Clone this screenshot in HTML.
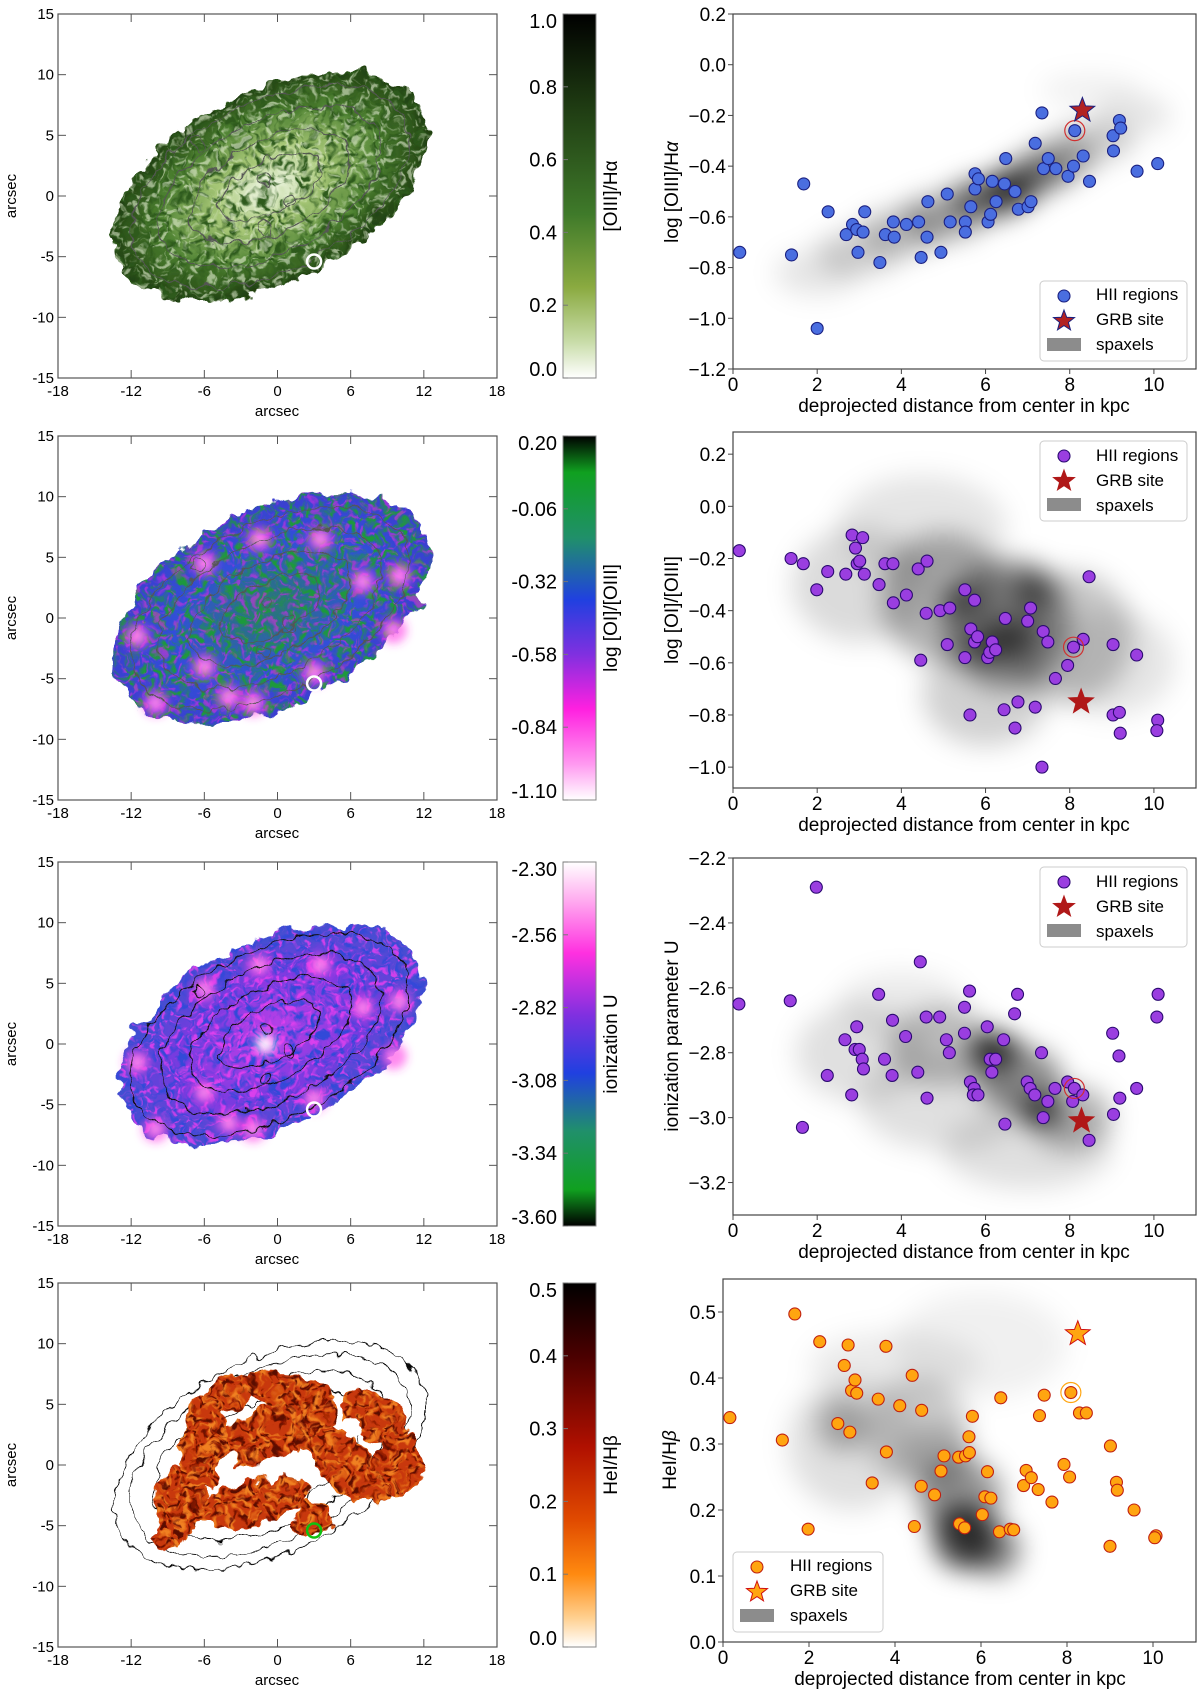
<!DOCTYPE html>
<html><head><meta charset="utf-8"><title>GRB host maps and radial profiles</title>
<style>
html,body{margin:0;padding:0;background:#fff;}
svg{display:block;font-family:"Liberation Sans",sans-serif;}
</style></head>
<body>
<svg id="fig" width="1200" height="1697" viewBox="0 0 1200 1697" xmlns="http://www.w3.org/2000/svg">
<defs>
 <filter id="rag" x="-20%" y="-20%" width="140%" height="140%"><feTurbulence type="fractalNoise" baseFrequency="0.05" numOctaves="3" seed="4" result="t"/><feDisplacementMap in="SourceGraphic" in2="t" scale="22" xChannelSelector="R" yChannelSelector="G"/></filter>
 <filter id="wig" x="-20%" y="-20%" width="140%" height="140%"><feTurbulence type="fractalNoise" baseFrequency="0.07" numOctaves="2" seed="9" result="t"/><feDisplacementMap in="SourceGraphic" in2="t" scale="14" xChannelSelector="R" yChannelSelector="G"/></filter>
 <filter id="nzA" x="0" y="0" width="100%" height="100%"><feTurbulence type="fractalNoise" baseFrequency="0.13" numOctaves="2" seed="3" result="t"/><feColorMatrix in="t" type="matrix" values="0 0 0 0 0 0 0 0 0 0 0 0 0 0 0 4 0 0 0 -1.8" result="a"/><feComposite in="SourceGraphic" in2="a" operator="in"/></filter>
 <filter id="nzB" x="0" y="0" width="100%" height="100%"><feTurbulence type="fractalNoise" baseFrequency="0.16" numOctaves="2" seed="11" result="t"/><feColorMatrix in="t" type="matrix" values="0 0 0 0 0 0 0 0 0 0 0 0 0 0 0 5 0 0 0 -2.6" result="a"/><feComposite in="SourceGraphic" in2="a" operator="in"/></filter>
 <filter id="blurD" x="-50%" y="-50%" width="200%" height="200%"><feGaussianBlur stdDeviation="13"/></filter>
 <filter id="blurS" x="-50%" y="-50%" width="200%" height="200%"><feGaussianBlur stdDeviation="5"/></filter>
 <radialGradient id="g1"><stop offset="0" stop-color="#f2f8e8"/><stop offset="0.35" stop-color="#a8c878"/><stop offset="0.7" stop-color="#4c8030"/><stop offset="1" stop-color="#1f3f10"/></radialGradient>
 <radialGradient id="g2"><stop offset="0" stop-color="#2a7a70"/><stop offset="0.6" stop-color="#3050d8"/><stop offset="1" stop-color="#3a40d0"/></radialGradient>
 <radialGradient id="g3"><stop offset="0" stop-color="#c040e8"/><stop offset="0.6" stop-color="#7a3ae0"/><stop offset="1" stop-color="#4050d0"/></radialGradient>
 <linearGradient id="cb1" x1="0" y1="0" x2="0" y2="1"><stop offset="0" stop-color="#000"/><stop offset="0.25" stop-color="#1e3a12"/><stop offset="0.55" stop-color="#3f7a2a"/><stop offset="0.75" stop-color="#8aaa40"/><stop offset="0.9" stop-color="#c8dca8"/><stop offset="1" stop-color="#fff"/></linearGradient>
 <linearGradient id="cb2" x1="0" y1="0" x2="0" y2="1"><stop offset="0" stop-color="#000"/><stop offset="0.1" stop-color="#10a020"/><stop offset="0.28" stop-color="#20906a"/><stop offset="0.45" stop-color="#2040e0"/><stop offset="0.6" stop-color="#8030e0"/><stop offset="0.75" stop-color="#ff20e0"/><stop offset="0.9" stop-color="#ff98f0"/><stop offset="1" stop-color="#fff"/></linearGradient>
 <linearGradient id="cb3" x1="0" y1="0" x2="0" y2="1"><stop offset="0" stop-color="#fff"/><stop offset="0.1" stop-color="#ffb0f0"/><stop offset="0.25" stop-color="#ff30e0"/><stop offset="0.42" stop-color="#8030e0"/><stop offset="0.58" stop-color="#2040e0"/><stop offset="0.74" stop-color="#20906a"/><stop offset="0.9" stop-color="#10a020"/><stop offset="1" stop-color="#000"/></linearGradient>
 <linearGradient id="cb4" x1="0" y1="0" x2="0" y2="1"><stop offset="0" stop-color="#000"/><stop offset="0.2" stop-color="#4a0000"/><stop offset="0.45" stop-color="#b01000"/><stop offset="0.65" stop-color="#e04a00"/><stop offset="0.8" stop-color="#ff8a10"/><stop offset="0.92" stop-color="#ffd090"/><stop offset="1" stop-color="#fff"/></linearGradient>
</defs>

<g font-size="15" fill="#000">
 <text transform="translate(16,196) rotate(-90)" text-anchor="middle">arcsec</text>
 <text x="277" y="416" text-anchor="middle">arcsec</text>
 <text transform="translate(16,618) rotate(-90)" text-anchor="middle">arcsec</text>
 <text x="277" y="838" text-anchor="middle">arcsec</text>
 <text transform="translate(16,1044) rotate(-90)" text-anchor="middle">arcsec</text>
 <text x="277" y="1264" text-anchor="middle">arcsec</text>
 <text transform="translate(16,1465) rotate(-90)" text-anchor="middle">arcsec</text>
 <text x="277" y="1685" text-anchor="middle">arcsec</text>
</g>
<g font-size="19" fill="#000">
 <text transform="translate(617,196) rotate(-90)" text-anchor="middle">[OIII]/Hα</text>
 <text transform="translate(617,618) rotate(-90)" text-anchor="middle">log [OI]/[OIII]</text>
 <text transform="translate(617,1044) rotate(-90)" text-anchor="middle">ionization U</text>
 <text transform="translate(617,1465) rotate(-90)" text-anchor="middle">HeI/Hβ</text>
</g>
<g font-size="19" fill="#000">
 <text transform="translate(678,192) rotate(-90)" text-anchor="middle">log [OIII]/H<tspan font-style="italic">α</tspan></text>
 <text x="964" y="412" text-anchor="middle">deprojected distance from center in kpc</text>
 <text transform="translate(678,610) rotate(-90)" text-anchor="middle">log [OI]/[OIII]</text>
 <text x="964" y="831" text-anchor="middle">deprojected distance from center in kpc</text>
 <text transform="translate(678,1036) rotate(-90)" text-anchor="middle">ionization parameter U</text>
 <text x="964" y="1258" text-anchor="middle">deprojected distance from center in kpc</text>
 <text transform="translate(676,1460) rotate(-90)" text-anchor="middle">HeI/H<tspan font-style="italic">β</tspan></text>
 <text x="960" y="1685" text-anchor="middle">deprojected distance from center in kpc</text>
</g>
<g id="legtext" font-size="17" fill="#000">
 <text x="1096" y="300">HII regions</text>
 <text x="1096" y="325">GRB site</text>
 <text x="1096" y="350">spaxels</text>
 <text x="1096" y="461">HII regions</text>
 <text x="1096" y="486">GRB site</text>
 <text x="1096" y="511">spaxels</text>
 <text x="1096" y="887">HII regions</text>
 <text x="1096" y="912">GRB site</text>
 <text x="1096" y="937">spaxels</text>
 <text x="790" y="1571">HII regions</text>
 <text x="790" y="1596">GRB site</text>
 <text x="790" y="1621">spaxels</text>
</g>
</svg>
<script>
// ---------- data ----------
const xTicks = [0, 2, 4, 6, 8, 10];
const p1x = [0.16,1.39,1.68,2.0,2.26,2.69,2.84,2.94,2.97,3.09,3.13,3.49,3.62,3.81,3.83,4.12,4.41,4.47,4.61,4.63,4.94,5.09,5.16,5.52,5.52,5.65,5.75,5.75,5.83,6.06,6.12,6.16,6.25,6.45,6.48,6.70,6.78,7.01,7.08,7.18,7.34,7.38,7.49,7.67,7.96,8.09,8.12,8.32,8.47,9.03,9.04,9.18,9.21,9.6,10.09];
const p1y = [-0.74,-0.75,-0.47,-1.04,-0.58,-0.67,-0.63,-0.65,-0.74,-0.66,-0.58,-0.78,-0.67,-0.62,-0.68,-0.63,-0.62,-0.76,-0.68,-0.54,-0.74,-0.51,-0.62,-0.62,-0.66,-0.56,-0.43,-0.49,-0.45,-0.62,-0.59,-0.46,-0.54,-0.47,-0.37,-0.50,-0.57,-0.56,-0.54,-0.31,-0.19,-0.41,-0.37,-0.41,-0.44,-0.40,-0.26,-0.36,-0.46,-0.28,-0.34,-0.22,-0.25,-0.42,-0.39];
const p1star = [8.3, -0.18];
const p1circ = [8.12, -0.26];
const p1yTicks = [0.2, 0.0, -0.2, -0.4, -0.6, -0.8, -1.0, -1.2];
const p1yLabels = ["0.2","0.0","−0.2","−0.4","−0.6","−0.8","−1.0","−1.2"];

const p2x = [0.15,1.38,1.67,1.99,2.25,2.68,2.83,2.91,2.95,3.01,3.08,3.12,3.47,3.61,3.80,3.81,4.12,4.40,4.46,4.61,4.59,4.92,5.15,5.09,5.51,5.51,5.63,5.65,5.74,5.74,5.81,6.05,6.10,6.16,6.24,6.44,6.47,6.70,6.77,7.00,7.07,7.18,7.34,7.37,7.48,7.66,7.95,8.09,8.32,8.46,9.03,9.03,9.18,9.20,9.59,10.09,10.07];
const p2y = [-0.17,-0.20,-0.22,-0.32,-0.25,-0.26,-0.11,-0.16,-0.22,-0.21,-0.12,-0.26,-0.30,-0.22,-0.22,-0.37,-0.34,-0.24,-0.59,-0.21,-0.41,-0.40,-0.39,-0.53,-0.32,-0.58,-0.80,-0.47,-0.36,-0.52,-0.50,-0.58,-0.56,-0.52,-0.55,-0.78,-0.43,-0.85,-0.75,-0.44,-0.39,-0.77,-1.00,-0.48,-0.52,-0.66,-0.61,-0.54,-0.51,-0.27,-0.53,-0.80,-0.79,-0.87,-0.57,-0.82,-0.86];
const p2star = [8.27, -0.75];
const p2circ = [8.09, -0.54];
const p2yTicks = [0.2, 0.0, -0.2, -0.4, -0.6, -0.8, -1.0];
const p2yLabels = ["0.2","0.0","−0.2","−0.4","−0.6","−0.8","−1.0"];

const p3x = [0.14,1.36,1.65,1.98,2.24,2.66,2.82,2.90,2.94,3.00,3.07,3.10,3.46,3.60,3.79,3.78,4.10,4.39,4.45,4.59,4.61,4.91,5.07,5.14,5.50,5.50,5.62,5.64,5.73,5.71,5.82,6.04,6.11,6.24,6.15,6.43,6.46,6.69,6.76,6.99,7.06,7.17,7.33,7.37,7.48,7.65,7.95,8.07,8.11,8.31,8.46,9.02,9.04,9.17,9.19,9.59,10.10,10.07];
const p3y = [-2.65,-2.64,-3.03,-2.29,-2.87,-2.76,-2.93,-2.79,-2.72,-2.79,-2.82,-2.85,-2.62,-2.82,-2.70,-2.87,-2.75,-2.86,-2.52,-2.69,-2.94,-2.69,-2.76,-2.80,-2.66,-2.74,-2.61,-2.89,-2.91,-2.93,-2.93,-2.72,-2.82,-2.82,-2.86,-2.76,-3.02,-2.68,-2.62,-2.89,-2.91,-2.93,-2.80,-3.00,-2.95,-2.91,-2.89,-2.95,-2.91,-2.93,-3.07,-2.74,-2.99,-2.81,-2.94,-2.91,-2.62,-2.69];
const p3star = [8.28, -3.01];
const p3circ = [8.11, -2.91];
const p3yTicks = [-2.2, -2.4, -2.6, -2.8, -3.0, -3.2];
const p3yLabels = ["−2.2","−2.4","−2.6","−2.8","−3.0","−3.2"];

const p4x = [0.16,1.38,1.67,1.98,2.25,2.67,2.82,2.91,2.95,2.99,3.07,3.11,3.47,3.61,3.79,3.80,4.11,4.40,4.45,4.61,4.62,4.92,5.07,5.14,5.48,5.50,5.62,5.64,5.72,5.73,5.80,6.03,6.09,6.15,6.23,6.43,6.46,6.68,6.76,6.99,7.05,7.17,7.33,7.36,7.47,7.65,7.93,8.06,8.09,8.29,8.45,9.01,9.00,9.15,9.17,9.56,10.07,10.04];
const p4y = [0.34,0.306,0.497,0.171,0.455,0.331,0.419,0.45,0.318,0.381,0.397,0.377,0.241,0.368,0.448,0.288,0.358,0.404,0.175,0.236,0.351,0.223,0.259,0.282,0.280,0.179,0.173,0.282,0.311,0.287,0.342,0.193,0.22,0.258,0.218,0.167,0.370,0.171,0.170,0.237,0.26,0.249,0.231,0.343,0.374,0.212,0.269,0.25,0.378,0.347,0.347,0.297,0.145,0.242,0.23,0.20,0.161,0.158];
const p4star = [8.25, 0.467];
const p4circ = [8.09, 0.378];
const p4yTicks = [0.0, 0.1, 0.2, 0.3, 0.4, 0.5];
const p4yLabels = ["0.0","0.1","0.2","0.3","0.4","0.5"];

const d1 = [[2,-0.82,1.0,0.09,.10],[3,-0.74,1.0,0.09,.18],[4,-0.66,1.0,0.09,.25],[5,-0.6,1.0,0.09,.35],[6,-0.53,0.9,0.08,.55],[6.6,-0.49,0.7,0.07,.7],[7.2,-0.43,0.8,0.07,.5],[7.8,-0.37,0.8,0.08,.35],[8.6,-0.3,0.9,0.08,.2],[9.5,-0.2,0.9,0.08,.1],[8.5,-0.1,1.2,0.06,.06]];
const d2 = [[3,-0.3,1.6,0.22,.14],[5,-0.35,1.5,0.25,.3],[6.5,-0.45,1.5,0.25,.4],[8,-0.5,1.5,0.25,.22],[5.4,-0.36,0.5,0.05,.55],[6.6,-0.5,0.6,0.07,.6],[7.1,-0.32,0.5,0.08,.5],[9,-0.6,1.5,0.2,.1],[4.5,-0.08,2,0.2,.1],[6,-0.72,1.5,0.2,.18],[6,-0.55,0.5,0.05,.5]];
const d3 = [[3,-2.8,1.5,0.15,.12],[5,-2.78,1.3,0.12,.25],[6.2,-2.79,0.6,0.05,.85],[6.8,-2.88,1,0.1,.45],[7.3,-2.98,0.5,0.04,.8],[8,-3.0,1,0.1,.3],[5,-2.95,2,0.15,.12],[7,-3.1,2,0.12,.12],[4,-2.65,1.5,0.1,.08]];
const d4 = [[2.8,0.33,0.6,0.04,.3],[3,0.3,1.5,0.1,.12],[4.5,0.32,1.2,0.08,.2],[5.5,0.22,1,0.06,.4],[5.6,0.16,0.7,0.05,.75],[6.3,0.14,0.6,0.04,.5],[4,0.42,2,0.05,.08],[6,0.45,2,0.08,.06],[5,0.28,0.8,0.05,.2]];

const cb1Labels = ["1.0","0.8","0.6","0.4","0.2","0.0"];
const cb2Labels = ["0.20","-0.06","-0.32","-0.58","-0.84","-1.10"];
const cb3Labels = ["-2.30","-2.56","-2.82","-3.08","-3.34","-3.60"];
const cb4Labels = ["0.5","0.4","0.3","0.2","0.1","0.0"];
const mapXTicks = [-18, -12, -6, 0, 6, 12, 18];
const mapYTicks = [15, 10, 5, 0, -5, -10, -15];

const NS = "http://www.w3.org/2000/svg";
const svg = document.getElementById("fig");
function mk(tag, attrs, parent) {
  const e = document.createElementNS(NS, tag);
  for (const k in attrs) e.setAttribute(k, attrs[k]);
  (parent || svg).appendChild(e);
  return e;
}
function txt(s, attrs, parent) { const t = mk("text", attrs, parent); t.textContent = s; return t; }

const mapL = 58, mapR = 497, cbL = 563, cbW = 33;
const mapTops = [14, 436, 862, 1283];
const mapH = 364;
function starPath(cx, cy, R) {
  let d = "";
  for (let i = 0; i < 10; i++) {
    const r = i % 2 ? R * 0.42 : R;
    const a = -Math.PI / 2 + i * Math.PI / 5;
    d += (i ? "L" : "M") + (cx + r * Math.cos(a)).toFixed(1) + "," + (cy + r * Math.sin(a)).toFixed(1);
  }
  return d + "Z";
}
function drawMap(i) {
  const top = mapTops[i], bot = top + mapH;
  const sx = a => mapL + (a + 18) / 36 * (mapR - mapL);
  const sy = a => top + (15 - a) / 30 * mapH;
  const g = mk("g", {});
  
  
  const cpId = "cp" + i;
  const cp = mk("clipPath", {id: cpId}, g);
  mk("rect", {x: mapL, y: top, width: mapR - mapL, height: mapH}, cp);
  const inner = mk("g", {"clip-path": "url(#" + cpId + ")"}, g);
  const cx = sx(-0.6), cy = sy(0.8);
  const tr = "rotate(-27 " + cx + " " + cy + ")";
  const gal = mk("g", {filter: "url(#rag)"}, inner);
  
  
  if (i === 0) {
    mk("ellipse", {cx, cy, rx: 170, ry: 96, transform: tr, fill: "url(#g1)"}, gal);
    mk("ellipse", {cx, cy, rx: 170, ry: 96, transform: tr, fill: "#2d5a1c", filter: "url(#nzA)"}, gal);
    mk("ellipse", {cx, cy, rx: 170, ry: 96, transform: tr, fill: "#e6f0d4", filter: "url(#nzB)", opacity: 0.6}, gal);
  } else if (i === 1) {
    mk("ellipse", {cx, cy, rx: 170, ry: 98, transform: tr, fill: "url(#g2)"}, gal);
    mk("ellipse", {cx, cy, rx: 170, ry: 98, transform: tr, fill: "#1e9a3a", filter: "url(#nzA)"}, gal);
    mk("ellipse", {cx, cy, rx: 170, ry: 98, transform: tr, fill: "#c030e0", filter: "url(#nzB)", opacity: 0.7}, gal);
  } else if (i === 2) {
    mk("ellipse", {cx, cy, rx: 163, ry: 92, transform: tr, fill: "url(#g3)"}, gal);
    mk("ellipse", {cx, cy, rx: 163, ry: 92, transform: tr, fill: "#3048d8", filter: "url(#nzA)"}, gal);
    mk("ellipse", {cx, cy, rx: 163, ry: 92, transform: tr, fill: "#f040f0", filter: "url(#nzB)", opacity: 0.8}, gal);
  }
  const spotsArc = [[-6,4.5],[-1.5,6.5],[3.5,6.5],[7,3],[10,3.5],[-11.5,-1.5],[-6,-4],[3,-4.5],[-10,-7],[-2,-7],[-4,-6.5],[9.5,-1]];
  if (i === 1 || i === 2) {
    const sp = mk("g", {filter: "url(#blurS)"}, inner);
    spotsArc.forEach(s => {
      mk("circle", {cx: sx(s[0]), cy: sy(s[1]), r: 12, fill: "#ff30e8", opacity: 0.85}, sp);
      mk("circle", {cx: sx(s[0]), cy: sy(s[1]), r: 5, fill: "#ffb0f4"}, sp);
    });
    if (i === 2) mk("circle", {cx: sx(-1), cy: sy(0), r: 9, fill: "#fff"}, sp);
  }
  if (i === 3) {
    const cg = mk("g", {filter: "url(#wig)", fill: "none", stroke: "#000", "stroke-width": 0.9}, inner);
    [[168, 96], [150, 84], [126, 70], [100, 54]].forEach(r => mk("ellipse", {cx, cy, rx: r[0], ry: r[1], transform: tr}, cg));
    const og = mk("g", {filter: "url(#rag)"}, inner);
    
    
    const arms = [[-1,2.5,6,2,-20],[5,0.5,5,2,40],[-6,2,2,4,0],[-2,-3,5,1.8,-10],[8,4,3,2,30],[-8,-3,2,3,0],[1,6,3.5,1.5,10],[-9,-6,1.2,1.2,0],[3,-4.5,1.5,1.5,0],[-4,6,2,1.5,-20],[10,0,2,2.5,0]];
    const arm = (a, attrs) => mk("ellipse", Object.assign({cx: sx(a[0]), cy: sy(a[1]), rx: a[2] * 12.2, ry: a[3] * 12.1, transform: "rotate(" + a[4] + " " + sx(a[0]) + " " + sy(a[1]) + ")"}, attrs), og);
    arms.forEach(a => arm(a, {fill: "#c83808"}));
    arms.forEach(a => { arm(a, {fill: "#f08020", filter: "url(#nzA)"}); arm(a, {fill: "#5a0800", filter: "url(#nzB)"}); });
    [[2,0.5],[-4,0],[6,3]].forEach(h => mk("circle", {cx: sx(h[0]), cy: sy(h[1]), r: 10, fill: "#fff"}, og));
  } else {
    const cg = mk("g", {filter: "url(#wig)", fill: "none", stroke: i === 2 ? "#111" : "#555", "stroke-width": 1}, inner);
    [[150, 84], [120, 66], [88, 46], [55, 26]].forEach(r => mk("ellipse", {cx, cy, rx: r[0], ry: r[1], transform: tr}, cg));
    [[-1,1.3],[-1,-2.8],[-6.5,4.3],[1,-0.5]].forEach(s => mk("circle", {cx: sx(s[0]), cy: sy(s[1]), r: 6}, cg));
  }
  const grb = mk("circle", {cx: sx(3), cy: sy(-5.4), r: 7, fill: "none", stroke: i === 3 ? "#10c010" : "#fff", "stroke-width": 2.5}, g);
  
  
  const fr = mk("rect", {x: mapL, y: top, width: mapR - mapL, height: mapH, fill: "none", stroke: "#555", "stroke-width": 1.2}, g);
  
  
  mapXTicks.forEach(v => {
    const x = sx(v);
    mk("line", {x1: x, x2: x, y1: bot, y2: bot - 8, stroke: "#555"}, g);
    mk("line", {x1: x, x2: x, y1: top, y2: top + 8, stroke: "#555"}, g);
    const t = txt(String(v), {x, y: bot + 18, "text-anchor": "middle", "font-size": 15}, g);
    
    
  });
  mapYTicks.forEach(v => {
    const y = sy(v);
    mk("line", {x1: mapL, x2: mapL + 8, y1: y, y2: y, stroke: "#555"}, g);
    mk("line", {x1: mapR, x2: mapR - 8, y1: y, y2: y, stroke: "#555"}, g);
    const t = txt(String(v), {x: mapL - 4, y: y + 5, "text-anchor": "end", "font-size": 15}, g);
    
    
  });
  const cb = mk("rect", {x: cbL, y: top, width: cbW, height: mapH, fill: "url(#cb" + (i + 1) + ")", stroke: "#888", "stroke-width": 1}, g);
  
  
  const labs = [cb1Labels, cb2Labels, cb3Labels, cb4Labels][i];
  labs.forEach((s, k) => {
    const y = top + k / (labs.length - 1) * mapH;
    mk("line", {x1: cbL, x2: cbL + 5, y1: y, y2: y, stroke: "#777"}, g);
    const t = txt(s, {x: cbL - 6, y: y + (k === 0 ? 14 : k === labs.length - 1 ? -2 : 7), "text-anchor": "end", "font-size": 20}, g);
    
    
  });
}
[0, 1, 2, 3].forEach(drawMap);

const panels = [
  {left: 733, right: 1196, top: 14, bottom: 369, ymin: -1.2, ymax: 0.2, xs: p1x, ys: p1y, star: p1star, circ: p1circ, yt: p1yTicks, yl: p1yLabels, dens: d1, fill: "#4a6ee0", edge: "#1a2080", sFill: "#b22222", sEdge: "#1a2080", ring: "#d03030", leg: [1040, 281, 147, 80]},
  {left: 733, right: 1196, top: 432, bottom: 788, ymin: -1.08, ymax: 0.285, xs: p2x, ys: p2y, star: p2star, circ: p2circ, yt: p2yTicks, yl: p2yLabels, dens: d2, fill: "#9a3ee0", edge: "#2a0a70", sFill: "#b01818", sEdge: "#b01818", ring: "#d03030", leg: [1040, 441, 147, 80]},
  {left: 733, right: 1196, top: 858, bottom: 1215, ymin: -3.3, ymax: -2.2, xs: p3x, ys: p3y, star: p3star, circ: p3circ, yt: p3yTicks, yl: p3yLabels, dens: d3, fill: "#9a3ee0", edge: "#2a0a70", sFill: "#b01818", sEdge: "#b01818", ring: "#d03030", leg: [1040, 867, 147, 80]},
  {left: 723, right: 1196, top: 1279, bottom: 1642, ymin: 0, ymax: 0.55, xs: p4x, ys: p4y, star: p4star, circ: p4circ, yt: p4yTicks, yl: p4yLabels, dens: d4, fill: "#ffa510", edge: "#c02010", sFill: "#ffa510", sEdge: "#d01010", ring: "#ffa510", leg: [733, 1552, 150, 80]}
];
panels.forEach((P, pi) => {
  const xS = v => P.left + v / 11 * (P.right - P.left);
  const yS = v => P.bottom - (v - P.ymin) / (P.ymax - P.ymin) * (P.bottom - P.top);
  const g = mk("g", {});
  
  
  const cpId = "sc" + pi;
  const cp = mk("clipPath", {id: cpId}, g);
  mk("rect", {x: P.left, y: P.top, width: P.right - P.left, height: P.bottom - P.top}, cp);
  const dg = mk("g", {"clip-path": "url(#" + cpId + ")"}, g);
  const dg2 = mk("g", {filter: "url(#blurD)"}, dg);
  
  
  P.dens.forEach(b => {
    mk("ellipse", {cx: xS(b[0]), cy: yS(b[1]), rx: Math.abs(xS(b[2]) - xS(0)), ry: Math.abs(yS(P.ymin + b[3]) - yS(P.ymin)), fill: "#000", opacity: b[4]}, dg2);
  });
  const fr = mk("rect", {x: P.left, y: P.top, width: P.right - P.left, height: P.bottom - P.top, fill: "none", stroke: "#444", "stroke-width": 1.2}, g);
  
  
  xTicks.forEach(v => {
    const x = xS(v);
    mk("line", {x1: x, x2: x, y1: P.bottom, y2: P.bottom + 5, stroke: "#444"}, g);
    const t = txt(String(v), {x, y: P.bottom + 22, "text-anchor": "middle", "font-size": 19}, g);
    
    
  });
  P.yt.forEach((v, k) => {
    const y = yS(v);
    mk("line", {x1: P.left - 5, x2: P.left, y1: y, y2: y, stroke: "#444"}, g);
    const t = txt(P.yl[k], {x: P.left - 7, y: y + 7, "text-anchor": "end", "font-size": 19}, g);
    
    
  });
  const n = Math.min(P.xs.length, P.ys.length);
  for (let k = 0; k < n; k++) {
    const c = mk("circle", {cx: xS(P.xs[k]), cy: yS(P.ys[k]), r: 6, fill: P.fill, stroke: P.edge, "stroke-width": 1.1}, g);
    
    
  }
  const ring = mk("circle", {cx: xS(P.circ[0]), cy: yS(P.circ[1]), r: 10, fill: "none", stroke: P.ring, "stroke-width": 1.2}, g);
  
  
  const st = mk("path", {d: starPath(xS(P.star[0]), yS(P.star[1]), 13), fill: P.sFill, stroke: P.sEdge, "stroke-width": 1}, g);
  
  
  const L = P.leg;
  const lg = mk("g", {}, g);
  
  
  mk("rect", {x: L[0], y: L[1], width: L[2], height: L[3], rx: 4, fill: "#fff", "fill-opacity": 0.85, stroke: "#ccc"}, lg);
  const mx = L[0] + 24;
  mk("circle", {cx: mx, cy: L[1] + 15, r: 6, fill: P.fill, stroke: P.edge, "stroke-width": 1.1}, lg);
  mk("path", {d: starPath(mx, L[1] + 40, 11), fill: P.sFill, stroke: P.sEdge}, lg);
  mk("rect", {x: mx - 17, y: L[1] + 57, width: 34, height: 13, fill: "#8c8c8c"}, lg);
});
svg.appendChild(document.getElementById("legtext"));
</script>
</body></html>
